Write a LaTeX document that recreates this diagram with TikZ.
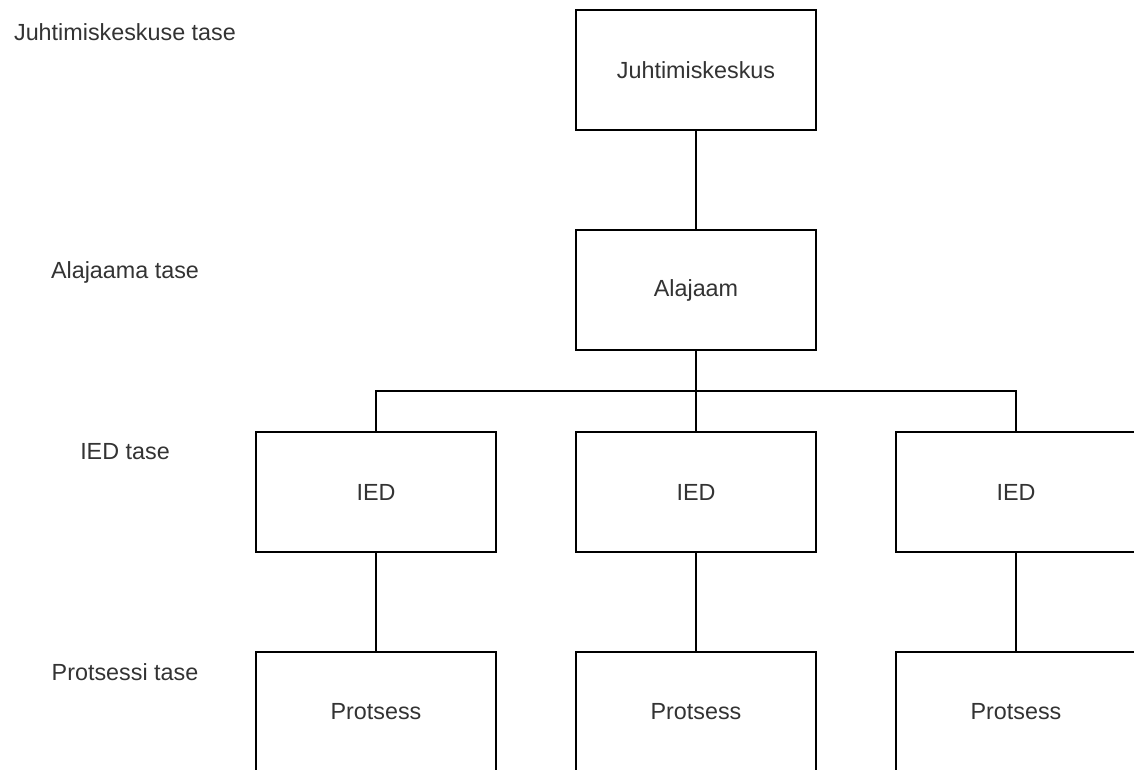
\documentclass[tikz,border=0pt]{standalone}
\usepackage{fontspec}
\setmainfont{Liberation Sans}
\tikzset{
  taseplokk/.style={draw, line width=1.3pt, fill=white, minimum width=6cm, minimum height=3cm, text=black!80, font=\fontsize{16.6}{20}\selectfont},
  tasesilt/.style={text=black!80, font=\fontsize{16.6}{20}\selectfont}
}
\begin{document}
\begin{tikzpicture}
      \useasboundingbox (0,0) rectangle (28.35,-19.225);
      \clip (0,0) rectangle (28.35,-19.225);
      % tasemete nimed
      \node[tasesilt] (s1) at (3.125,-0.8) {Juhtimiskeskuse tase};
      \node[tasesilt] (s2) at (3.125,-6.8) {Alajaama tase};
      \node[tasesilt] (s3) at (3.125,-11.3) {IED tase};
      \node[tasesilt] (s4) at (3.125,-16.8) {Protsessi tase};
      % plokid
      \node[taseplokk] (juht) at (17.4,-1.75) {Juhtimiskeskus};
      \node[taseplokk] (alajaam) at (17.4,-7.25) {Alajaam};
      \foreach \i/\x in {1/9.4,2/17.4,3/25.4} {
        \node[taseplokk] (ied\i) at (\x,-12.3) {IED};
        \node[taseplokk] (prots\i) at (\x,-17.8) {Protsess};
        \draw[line width=1.3pt] (ied\i) -- (prots\i);
      }
      \coordinate (siin) at (17.4,-9.78);
      \draw[line width=1.3pt] (juht) -- (alajaam);
      \draw[line width=1.3pt] (alajaam) -- (siin);
      \draw[line width=1.3pt] (siin) -| (ied1.north);
      \draw[line width=1.3pt] (siin) -- (ied2.north);
      \draw[line width=1.3pt] (siin) -| (ied3.north);
\end{tikzpicture}
\end{document}
